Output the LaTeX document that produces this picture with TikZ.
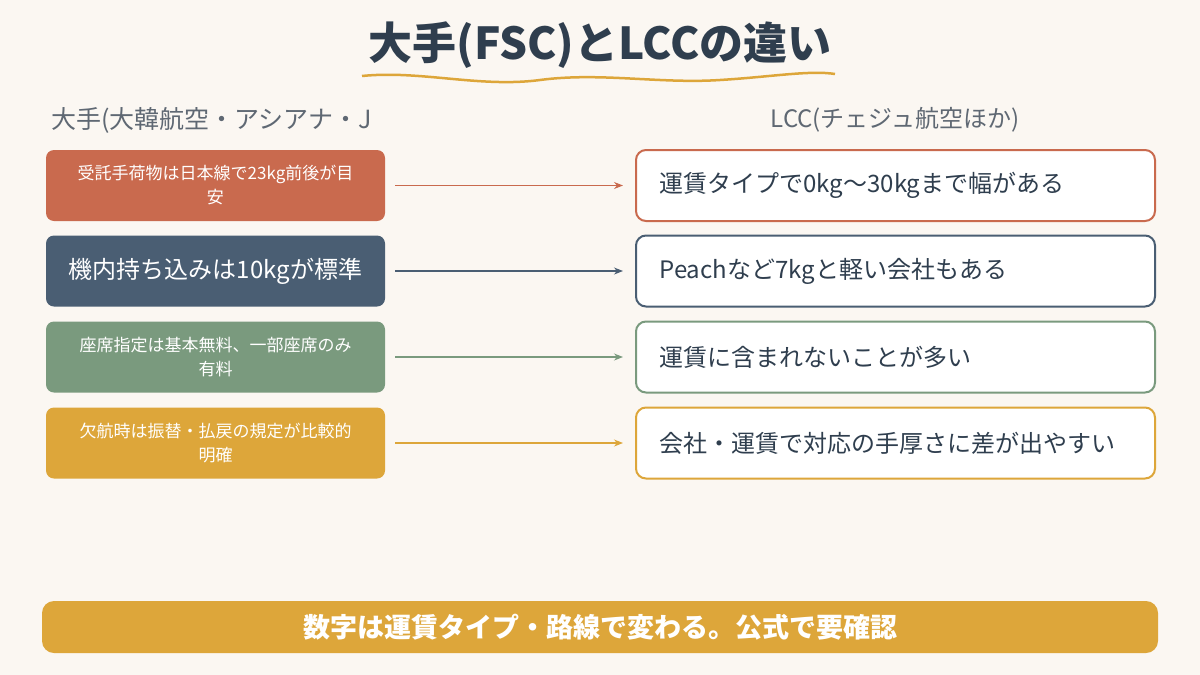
\documentclass[tikz,border=0pt]{standalone}
\usepackage{fontspec}
\setmainfont{Noto Sans CJK JP}
\usetikzlibrary{arrows.meta}
\definecolor{bg}{HTML}{FBF7F2}
\definecolor{cO}{HTML}{C96A4E}
\definecolor{cB}{HTML}{4A5E73}
\definecolor{cG}{HTML}{7A9A7E}
\definecolor{cY}{HTML}{DDA63A}
\definecolor{ink}{HTML}{2F3E4E}
\definecolor{gr}{HTML}{5F6873}
\begin{document}
\begin{tikzpicture}[x=1pt,y=-1pt,
 lbox/.style={rounded corners=8pt,minimum width=339pt,minimum height=71pt,inner sep=0pt,text=white,align=center,text width=330pt},
 rbox/.style={draw=#1,line width=2pt,fill=white,rounded corners=10pt,minimum width=519pt,minimum height=71pt,text=ink,font=\fontsize{24}{28}\selectfont,text width=472pt,align=left,xshift=0pt},
 arr/.style={draw=#1,line width=1.2pt,-{Stealth[length=9pt,width=7pt]}}]
\fill[bg] (0,0) rectangle (1200,675);
\useasboundingbox (0,0) rectangle (1200,675);
\node[text=ink,font=\bfseries\fontsize{44}{50}\selectfont] (title) at (600,45) {大手(FSC)とLCCの違い};
\draw[cY,line width=2.5pt] (362,76) .. controls (420,70) and (480,88) .. (540,80) .. controls (600,72) and (660,84) .. (720,80) .. controls (770,77) and (810,70) .. (835,74);
\node[text=gr,anchor=west,font=\fontsize{25}{28}\selectfont] (lh) at (48,120) {大手(大韓航空・アシアナ・J};
\node[text=gr,font=\fontsize{24}{28}\selectfont] (rh) at (895,120) {LCC(チェジュ航空ほか)};
\node[lbox,fill=cO,font=\fontsize{17}{24}\selectfont] (l1) at (215.5,185.5) {受託手荷物は日本線で23kg前後が目\\安};
\node[lbox,fill=cB,font=\fontsize{24}{28}\selectfont] (l2) at (215.5,271) {機内持ち込みは10kgが標準};
\node[lbox,fill=cG,font=\fontsize{17}{24}\selectfont] (l3) at (215.5,357) {座席指定は基本無料、一部座席のみ\\有料};
\node[lbox,fill=cY,font=\fontsize{17}{24}\selectfont] (l4) at (215.5,443) {欠航時は振替・払戻の規定が比較的\\明確};
\node[rbox=cO] (r1) at (895.5,185.5) {運賃タイプで0kg〜30kgまで幅がある};
\node[rbox=cB] (r2) at (895.5,271) {Peachなど7kgと軽い会社もある};
\node[rbox=cG] (r3) at (895.5,357) {運賃に含まれないことが多い};
\node[rbox=cY] (r4) at (895.5,443) {会社・運賃で対応の手厚さに差が出やすい};
\draw[arr=cO] ([xshift=10pt]l1.east) -- ([xshift=-12pt]r1.west);
\draw[arr=cB] ([xshift=10pt]l2.east) -- ([xshift=-12pt]r2.west);
\draw[arr=cG] ([xshift=10pt]l3.east) -- ([xshift=-12pt]r3.west);
\draw[arr=cY] ([xshift=10pt]l4.east) -- ([xshift=-12pt]r4.west);
\node[fill=cY,rounded corners=12pt,minimum width=1116pt,minimum height=52pt,text=white,font=\bfseries\fontsize{27}{30}\selectfont] (bar) at (600,627) {数字は運賃タイプ・路線で変わる。公式で要確認};
\end{tikzpicture}
\end{document}
